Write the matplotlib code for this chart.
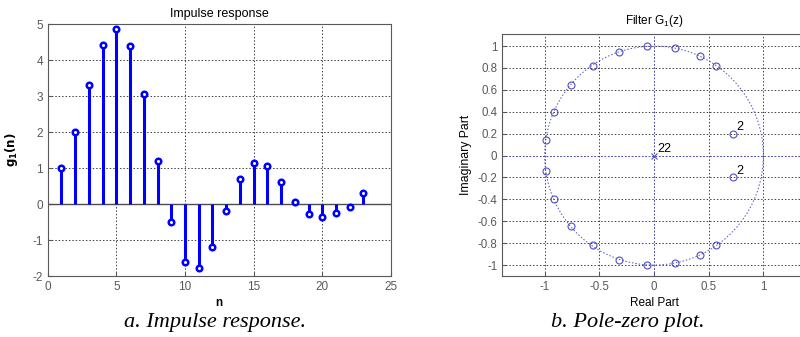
import numpy as np
import matplotlib
matplotlib.use("Agg")
import matplotlib.pyplot as plt

plt.rcParams['font.family'] = ['Liberation Sans', 'DejaVu Sans']
plt.rcParams['axes.unicode_minus'] = False

# impulse response g1(n)
n = np.arange(1, 24)
g1 = [1.0, 2.01, 3.32, 4.41, 4.88, 4.39, 3.05, 1.21, -0.51, -1.6, -1.78, -1.18,
      -0.2, 0.7, 1.15, 1.05, 0.61, 0.07, -0.27, -0.36, -0.24, -0.08, 0.31]

# zeros of G1(z), upper half (conjugates are mirrored)
zero_re = [-0.06, 0.19, 0.42, 0.57, -0.32, -0.56, -0.76, -0.91, -0.99]
zero_im = [1.0, 0.98, 0.91, 0.82, 0.95, 0.82, 0.64, 0.40, 0.14]
dbl_re = [0.72]
dbl_im = [0.20]
pole_mult = 22

fig = plt.figure(figsize=(8, 3.37), dpi=100)
grid_kw = dict(color='0.25', linestyle=(0, (1.5, 2)), linewidth=0.7)

# ---- a. impulse response
ax1 = fig.add_axes([0.0596, 0.181, 0.429, 0.747])
ax1.axhline(0, color='0.3', linewidth=1.0, zorder=2)
ax1.vlines(n, 0, g1, color='#0000ff', linewidth=2.2, zorder=3)
ax1.plot(n, g1, 'o', markersize=4, markerfacecolor='white',
         markeredgecolor='#0000ff', markeredgewidth=1.8, zorder=4)
ax1.set_xlim(0, 25)
ax1.set_ylim(-2, 5)
ax1.set_xticks(np.arange(0, 26, 5))
ax1.set_yticks(np.arange(-2, 6, 1))
ax1.grid(True, **grid_kw)
ax1.set_axisbelow(True)
ax1.set_title('Impulse response', fontsize=9, pad=5)
ax1.set_xlabel('n', fontsize=8.5, fontweight='bold', labelpad=3)
ax1.set_ylabel('$\\mathbf{g_1(n)}$', fontsize=8.5, labelpad=9)
ax1.tick_params(labelsize=8.5, colors='0.35', direction='in', length=3)
for s in ax1.spines.values():
    s.set_color('0.35')

# ---- b. pole-zero plot
zc = '#5050c0'
ax2 = fig.add_axes([0.6275, 0.181, 0.38, 0.718])
t = np.linspace(0, 2 * np.pi, 400)
ax2.plot(np.cos(t), np.sin(t), color=zc, linestyle=(0, (1.5, 2)), linewidth=0.7)
ax2.axhline(0, color=zc, linestyle=(0, (1.5, 2)), linewidth=0.7)
ax2.axvline(0, color=zc, linestyle=(0, (1.5, 2)), linewidth=0.7)
zr = np.array(zero_re + zero_re + dbl_re + dbl_re)
zi = np.array(zero_im + [-v for v in zero_im] + dbl_im + [-v for v in dbl_im])
ax2.plot(zr, zi, 'o', markersize=5, markerfacecolor='none',
         markeredgecolor=zc, markeredgewidth=0.8, zorder=4)
ax2.plot([0], [0], 'x', markersize=4, color=zc, markeredgewidth=0.8, zorder=4)
ax2.text(0.03, 0.03, str(pole_mult), fontsize=9)
for r, i in zip(dbl_re, dbl_im):
    ax2.text(r + 0.03, i + 0.03, '2', fontsize=9)
    ax2.text(r + 0.03, -i + 0.03, '2', fontsize=9)
ax2.set_xlim(-1.39, 1.39)
ax2.set_ylim(-1.1, 1.11)
ax2.set_xticks([-1, -0.5, 0, 0.5, 1])
ax2.set_xticklabels(['-1', '-0.5', '0', '0.5', '1'])
ax2.set_yticks(np.round(np.arange(-1, 1.01, 0.2), 1))
ax2.set_yticklabels(['-1', '-0.8', '-0.6', '-0.4', '-0.2', '0', '0.2', '0.4', '0.6', '0.8', '1'])
ax2.grid(True, **grid_kw)
ax2.set_axisbelow(True)
ax2.set_title('Filter $\\mathregular{G_1(z)}$', fontsize=8.5, pad=7)
ax2.set_xlabel('Real Part', fontsize=8.5, labelpad=3)
ax2.set_ylabel('Imaginary Part', fontsize=8.8, labelpad=4)
ax2.tick_params(labelsize=8.3, colors='0.35', direction='in', length=3)
for s in ax2.spines.values():
    s.set_color('0.35')

# captions
cap = dict(fontsize=16, family=['Liberation Serif'], style='italic', ha='center', va='center')
fig.text(0.269, 0.042, 'a. Impulse response.', **cap)
fig.text(0.785, 0.042, 'b. Pole-zero plot.', **cap)

fig.savefig('out.png', dpi=100)
